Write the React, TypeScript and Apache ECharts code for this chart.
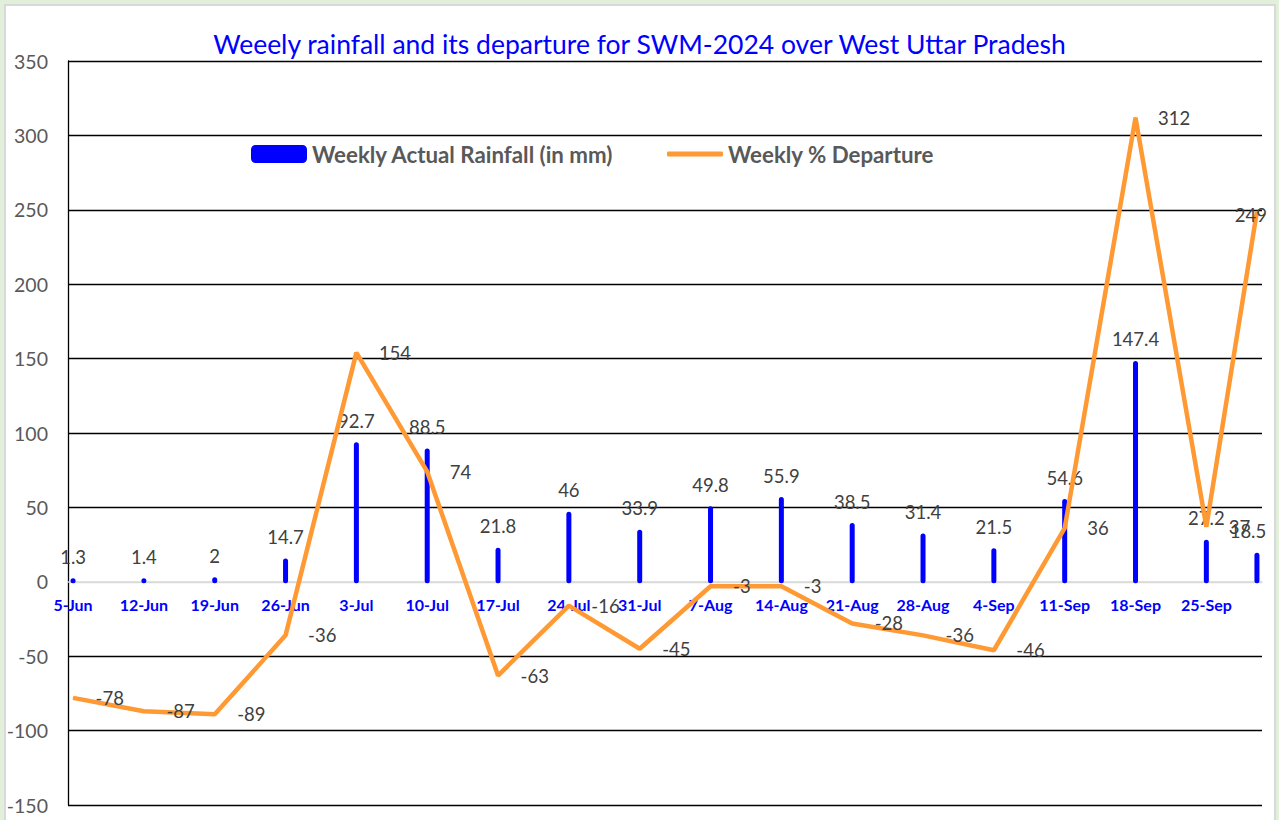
import React, { useEffect, useRef } from "react";
import * as echarts from "echarts";

const TITLE = "Weeely rainfall and its departure for SWM-2024 over West Uttar Pradesh";
const SERIES_BAR = "Weekly Actual Rainfall (in mm)";
const SERIES_LINE = "Weekly % Departure";

const weekDates = ["5-Jun", "12-Jun", "19-Jun", "26-Jun", "3-Jul", "10-Jul", "17-Jul", "24-Jul", "31-Jul", "7-Aug", "14-Aug", "21-Aug", "28-Aug", "4-Sep", "11-Sep", "18-Sep", "25-Sep", "30-Sep"];
const rainfall = [1.3, 1.4, 2, 14.7, 92.7, 88.5, 21.8, 46, 33.9, 49.8, 55.9, 38.5, 31.4, 21.5, 54.6, 147.4, 27.2, 18.5];
const departure = [-78, -87, -89, -36, 154, 74, -63, -16, -45, -3, -3, -28, -36, -46, 36, 312, 37, 249];

const yMin = -150;
const yMax = 350;
const yStep = 50;

const MONTHS = ["Jan", "Feb", "Mar", "Apr", "May", "Jun", "Jul", "Aug", "Sep", "Oct", "Nov", "Dec"];

function buildDays(): string[] {
  const out: string[] = [];
  const d = new Date(2024, 5, 5);
  const end = new Date(2024, 8, 30);
  while (d.getTime() <= end.getTime()) {
    out.push(`${d.getDate()}-${MONTHS[d.getMonth()]}`);
    d.setDate(d.getDate() + 1);
  }
  return out;
}

const FONT = "Lato";
const W = 1279;
const H = 820;
const GRID = { left: 68, right: 17, top: 61, bottom: 15 };

export default function App() {
  const ref = useRef<HTMLDivElement>(null);
  useEffect(() => {
    if (!ref.current) return;
    const chart = echarts.init(ref.current, null, { renderer: "svg" });
    const days = buildDays();
    const barData: any[] = days.map(() => null);
    const lineData: any[] = days.map(() => null);
    const last = weekDates.length - 1;
    weekDates.forEach((w, i) => {
      const idx = days.indexOf(w);
      barData[idx] = i === last ? { value: rainfall[i], label: { offset: [-9, 0] } } : rainfall[i];
      lineData[idx] =
        i === last ? { value: departure[i], label: { position: "inside", offset: [-6, 4] } } : departure[i];
    });
    const splitColors: string[] = [];
    for (let v = yMin; v <= yMax; v += yStep) splitColors.push(v === 0 ? "#D9D9D9" : "#000000");

    const plotH = H - GRID.top - GRID.bottom;
    const zeroOffset = (plotH * (0 - yMin)) / (yMax - yMin);

    chart.setOption({
      animation: false,
      textStyle: { fontFamily: FONT },
      title: {
        text: TITLE,
        left: "center",
        top: 25,
        textStyle: { color: "#0000FF", fontSize: 26.5, fontWeight: "normal", fontFamily: FONT },
      },
      legend: [
        {
          data: [SERIES_BAR],
          left: 251,
          top: 143,
          padding: 0,
          itemWidth: 56,
          itemHeight: 18,
          icon: "roundRect",
          itemStyle: { borderWidth: 0 },
          textStyle: { color: "#595959", fontSize: 22.3, lineHeight: 20, fontWeight: "bold", fontFamily: FONT },
        },
        {
          data: [SERIES_LINE],
          left: 667,
          top: 143,
          padding: 0,
          itemWidth: 56,
          itemHeight: 5,
          icon: "roundRect",
          textStyle: { color: "#595959", fontSize: 22.3, lineHeight: 20, fontWeight: "bold", fontFamily: FONT },
        },
      ],
      grid: { ...GRID, containLabel: false, outerBoundsMode: "none" },
      xAxis: {
        type: "category",
        data: days,
        boundaryGap: true,
        position: "bottom",
        offset: -zeroOffset,
        axisLine: { show: true, onZero: false, lineStyle: { color: "#D9D9D9", width: 1.5 } },
        axisTick: { show: false },
        axisLabel: {
          interval: (index: number) => index % 7 === 0,
          color: "#0000FF",
          fontWeight: "bold",
          fontSize: 16,
          margin: 15,
          fontFamily: FONT,
          hideOverlap: false,
        },
        splitLine: { show: false },
      },
      yAxis: {
        type: "value",
        min: yMin,
        max: yMax,
        interval: yStep,
        axisLine: { show: true, lineStyle: { color: "#000000", width: 1.3 } },
        axisTick: { show: false },
        axisLabel: { color: "#595959", fontSize: 19.5, margin: 20, fontFamily: FONT },
        splitLine: { show: true, lineStyle: { color: splitColors, width: 1.3 } },
      },
      series: [
        {
          name: SERIES_BAR,
          type: "bar",
          data: barData,
          barWidth: 2,
          itemStyle: { color: "#0000FF", borderColor: "#0000FF", borderWidth: 5, borderJoin: "round" },
          label: {
            show: true,
            position: "top",
            distance: 12,
            color: "#404040",
            fontSize: 18.5,
            fontFamily: FONT,
          },
        },
        {
          name: SERIES_LINE,
          type: "line",
          data: lineData,
          connectNulls: true,
          symbol: "circle",
          symbolSize: 1,
          color: "#FF9933",
          itemStyle: { color: "#FF9933" },
          lineStyle: { color: "#FF9933", width: 4.5 },
          label: {
            show: true,
            position: "right",
            distance: 22,
            color: "#404040",
            fontSize: 18.5,
            fontFamily: FONT,
          },
        },
      ],
    });
    return () => chart.dispose();
  }, []);

  return (
    <div style={{ position: "fixed", left: 0, top: 0, width: W, height: H, background: "#E2EFDA", overflow: "hidden" }}>
      <div
        style={{
          position: "absolute",
          left: 4,
          top: 4,
          width: 1268,
          height: 830,
          background: "#FFFFFF",
          border: "2px solid #D9D9D9",
        }}
      />
      <div ref={ref} style={{ position: "absolute", left: 0, top: 0, width: W, height: H }} />
    </div>
  );
}
